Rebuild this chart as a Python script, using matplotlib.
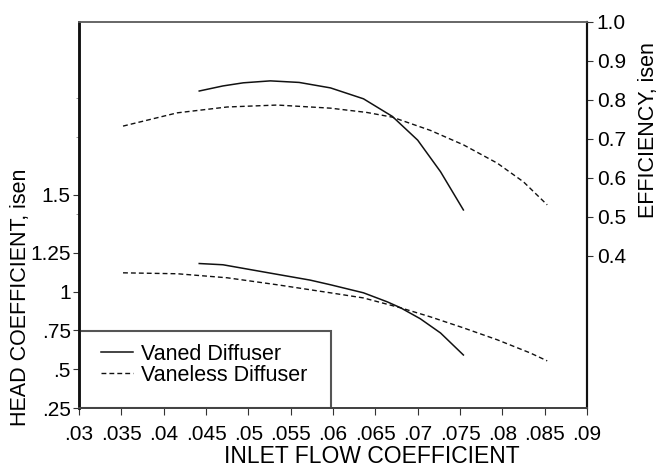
import matplotlib
matplotlib.use("Agg")
import matplotlib.pyplot as plt
from matplotlib.patches import Rectangle

plt.rcParams['font.family'] = ['Liberation Sans', 'DejaVu Sans']

vazao_vaned = [0.0442, 0.047, 0.0494, 0.0526, 0.056, 0.0597, 0.0636, 0.067, 0.0700, 0.0727, 0.0754]
eficiencia_vaned = [0.823, 0.836, 0.844, 0.849, 0.845, 0.831, 0.803, 0.758, 0.697, 0.616, 0.518]

vazao_vaneless = [0.0352, 0.0416, 0.0475, 0.0534, 0.0597, 0.064, 0.067, 0.0715, 0.0754, 0.0794, 0.0825, 0.0853]
eficiencia_vaneless = [0.733, 0.767, 0.782, 0.787, 0.779, 0.768, 0.756, 0.722, 0.685, 0.638, 0.590, 0.531]

vazao_head_vaned = [0.0442, 0.047, 0.0526, 0.0573, 0.0597, 0.0636, 0.0664, 0.068, 0.0703, 0.0727, 0.0754]
head_vaned = [1.182, 1.174, 1.120, 1.075, 1.045, 0.993, 0.935, 0.896, 0.826, 0.734, 0.592]

vazao_head_vaneless = [0.0352, 0.0416, 0.0475, 0.0534, 0.0597, 0.0636, 0.068, 0.0715, 0.0754, 0.0794, 0.0833, 0.0853]
head_vaneless = [1.122, 1.116, 1.090, 1.045, 0.993, 0.960, 0.896, 0.838, 0.767, 0.690, 0.605, 0.554]

ticks_x = [0.03, 0.035, 0.04, 0.045, 0.05, 0.055, 0.06, 0.065, 0.07, 0.075, 0.08, 0.085, 0.09]
rotulos_x = [".03", ".035", ".04", ".045", ".05", ".055", ".06", ".065", ".07", ".075", ".08", ".085", ".09"]
ticks_head = [0.25, 0.5, 0.75, 1.0, 1.25, 1.625]
rotulos_head = [".25", ".5", ".75", "1", "1.25", "1.5"]
ticks_eff = [0.4, 0.5, 0.6, 0.7, 0.8, 0.9, 1.0]
rotulos_eff = ["0.4", "0.5", "0.6", "0.7", "0.8", "0.9", "1.0"]

cor = "#111111"

fig = plt.figure(figsize=(6.6, 4.68), dpi=100)
ax = fig.add_axes([0.1197, 0.1282, 0.7697, 0.8248])
ax2 = ax.twinx()

# Coeficiente de pressão (eixo esquerdo)
ax.plot(vazao_head_vaned, head_vaned, color=cor, lw=1.1, label="Vaned Diffuser")
ax.plot(vazao_head_vaneless, head_vaneless, color=cor, lw=1.0, dashes=(3.5, 2.2), label="Vaneless Diffuser")

# Eficiência (eixo direito)
ax2.plot(vazao_vaned, eficiencia_vaned, color=cor, lw=1.1)
ax2.plot(vazao_vaneless, eficiencia_vaneless, color=cor, lw=1.0, dashes=(3.5, 2.2))

ax.set_xlim(0.03, 0.09)
ax.set_ylim(0.25, 2.74)
ax2.set_ylim(0.01, 1.0)

ax.set_xticks(ticks_x)
ax.set_xticklabels(rotulos_x)
ax.set_yticks(ticks_head)
ax.set_yticklabels(rotulos_head)
ax.set_yticks([1.5, 2.0, 2.25], minor=True)
ax2.set_yticks(ticks_eff)
ax2.set_yticklabels(rotulos_eff)

ax.tick_params(axis="both", which="major", labelsize=15, length=4, width=0.8, color="#333", pad=2)
ax.tick_params(axis="x", length=5, pad=7)
ax.tick_params(axis="y", which="minor", length=2, width=0.6, color="#888")
ax2.tick_params(axis="y", labelsize=15, length=4, width=0.8, color="#333", pad=3)

ax.set_xlabel("INLET FLOW COEFFICIENT", fontsize=16.5)
ax.xaxis.set_label_coords(0.577, -0.097)
ax.set_ylabel("HEAD COEFFICIENT, isen", fontsize=15.5)
ax.yaxis.set_label_coords(-0.095, 0.288)
ax2.set_ylabel("EFFICIENCY, isen", fontsize=15.5)
ax2.yaxis.set_label_coords(1.10, 0.72)

for eixo in (ax, ax2):
    eixo.spines["left"].set_linewidth(1.8)
    eixo.spines["left"].set_color("#111")
    eixo.spines["right"].set_linewidth(1.5)
    eixo.spines["right"].set_color("#111")
    eixo.spines["bottom"].set_linewidth(1.4)
    eixo.spines["bottom"].set_color("#444")
    eixo.spines["top"].set_linewidth(1.2)
    eixo.spines["top"].set_color("#666")

# Moldura da legenda no canto inferior esquerdo
ax.add_patch(Rectangle((0, 0), 0.496, 0.2, transform=ax.transAxes, fill=False,
                       edgecolor="#555", lw=1.5, zorder=5))
ax.legend(loc="upper left", bbox_to_anchor=(0.044, 0.167), frameon=False, fontsize=15.5,
          handlelength=1.45, handletextpad=0.4, labelspacing=0.02, borderaxespad=0, borderpad=0)

plt.savefig("out.png", dpi=100)
